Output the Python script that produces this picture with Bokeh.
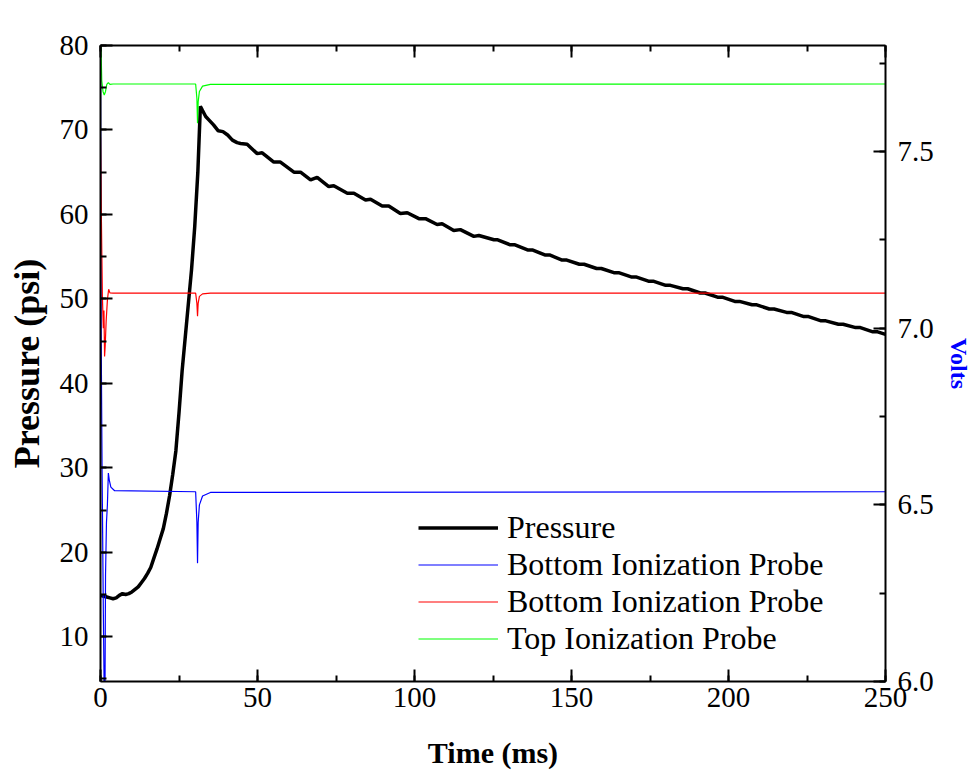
from bokeh.plotting import figure
from bokeh.models import (Range1d, LinearAxis, SingleIntervalTicker, PrintfTickFormatter,
                          Legend, LegendItem, CustomLabelingPolicy)
from bokeh.embed import file_html
from bokeh.resources import INLINE

# ---------------- data ----------------
p_time = [0, 1, 2, 3, 4, 5, 6, 7, 8, 9, 10, 11, 12, 13, 14, 15, 16, 17, 18, 19, 20,
          21, 22, 23, 24, 25, 26, 27, 28, 29, 30, 31, 31.8, 32.5, 33.5, 34.5, 36, 37.5,
          39, 40.5, 42, 43.5, 44.6, 46.7, 49.9, 51.5, 55.2, 57.3, 61.6, 63.7, 66.9, 69.0,
          72.7, 74.3, 78.6, 80.7, 84.4, 86.0, 89.7, 91.8, 95.5, 97.7, 101.4, 103.5, 107.2,
          108.8, 112.5, 114.6, 118.9, 120.5, 125.3, 126.5, 130.5, 132, 136, 137.5, 141.5,
          143, 147, 148.5, 152.5, 154, 158, 159.5, 163.5, 165, 169, 170.5, 174.5, 176, 180,
          181.5, 185.5, 187, 191, 192.5, 196.5, 198, 202, 203.5, 207.5, 209, 213, 214.5,
          218.5, 220, 224, 225.5, 229.5, 231, 235, 236.5, 240.5, 242, 246, 247.5, 250]
pressure = [14.9, 14.8, 14.7, 14.6, 14.5, 14.6, 14.9, 15.1, 15.0, 15.1, 15.3, 15.6, 15.9,
            16.4, 16.9, 17.5, 18.2, 19.3, 20.4, 21.6, 22.8, 24.6, 26.7, 29.2, 32.0, 36.5,
            41.5, 45.5, 49.5, 53.5, 58.5, 65.0, 72.8, 72.3, 71.6, 71.2, 70.6, 69.9, 69.8,
            69.4, 68.8, 68.5, 68.4, 68.3, 67.2, 67.3, 66.2, 66.2, 65.0, 65.0, 64.1, 64.4,
            63.3, 63.4, 62.5, 62.5, 61.7, 61.8, 61.0, 61.0, 60.1, 60.2, 59.5, 59.5, 58.8,
            58.9, 58.1, 58.2, 57.4, 57.5, 57.0, 57.0, 56.4, 56.4, 55.8, 55.8, 55.2, 55.2,
            54.6, 54.6, 54.1, 54.1, 53.6, 53.6, 53.1, 53.1, 52.6, 52.6, 52.1, 52.1, 51.6,
            51.6, 51.2, 51.2, 50.7, 50.7, 50.2, 50.2, 49.7, 49.7, 49.3, 49.3, 48.8, 48.8,
            48.4, 48.4, 47.9, 47.9, 47.4, 47.4, 47.0, 47.0, 46.6, 46.6, 46.1, 46.1, 45.8]

blue_time = [0, 0.2, 0.5, 0.9, 1.2, 1.4, 1.6, 1.9, 2.2, 2.5, 2.8, 3.3, 4.5, 30.3, 30.7,
             30.9, 31.1, 31.5, 32.5, 35, 250]
blue_volts = [7.76, 7.0, 6.6, 6.2, 5.95, 5.9, 6.3, 6.45, 6.5, 6.59, 6.57, 6.55, 6.54,
              6.537, 6.45, 6.335, 6.45, 6.50, 6.525, 6.535, 6.537]

red_time = [0, 0.3, 0.6, 0.9, 1.1, 1.3, 1.5, 1.8, 2.2, 2.6, 3.0, 4.0, 30.3, 30.7, 30.9,
            31.1, 31.5, 32.5, 35, 250]
red_volts = [7.54, 7.3, 7.09, 7.0, 7.05, 6.92, 6.95, 7.02, 7.08, 7.11, 7.10, 7.099,
             7.099, 7.07, 7.034, 7.07, 7.09, 7.097, 7.099, 7.099]

green_time = [0, 0.2, 0.4, 0.8, 1.2, 1.6, 2.0, 2.5, 3.0, 4.0, 30.3, 30.7, 30.9, 31.1,
              31.5, 32.5, 35, 250]
green_volts = [7.9, 7.78, 7.70, 7.67, 7.66, 7.67, 7.69, 7.695, 7.69, 7.691, 7.691, 7.65,
               7.58, 7.64, 7.67, 7.685, 7.69, 7.691]

x_ticks_interval = 50
left_ticks_interval = 10
right_ticks_interval = 0.5

FONT = "Liberation Serif"

p = figure(width=974, height=776, x_range=Range1d(0, 250), y_range=Range1d(4.7, 80),
           output_backend="svg", toolbar_location=None,
           min_border_left=100, min_border_right=89, min_border_top=45, min_border_bottom=95)
p.extra_y_ranges = {"volts": Range1d(6.0, 7.8)}
p.xgrid.visible = False
p.ygrid.visible = False
p.outline_line_color = None
p.background_fill_color = "white"
p.border_fill_color = "white"


def style(ax):
    ax.axis_line_width = 2
    ax.axis_line_color = "black"
    ax.major_tick_in = 12
    ax.major_tick_out = 0
    ax.minor_tick_in = 6
    ax.minor_tick_out = 0
    ax.major_tick_line_width = 2
    ax.minor_tick_line_width = 2
    ax.major_tick_line_color = "black"
    ax.minor_tick_line_color = "black"
    ax.major_label_text_font = FONT
    ax.major_label_text_font_size = "29px"
    ax.major_label_text_color = "black"
    ax.axis_label_text_font = FONT
    ax.axis_label_text_font_style = "bold"
    ax.axis_label_text_color = "black"


xa = p.xaxis[0]
xa.ticker = SingleIntervalTicker(interval=x_ticks_interval, num_minor_ticks=2)
style(xa)
xa.major_label_standoff = 6
xa.axis_label = "Time (ms)"
xa.axis_label_text_font_size = "30px"
xa.axis_label_standoff = 26

ya = p.yaxis[0]
ya.ticker = SingleIntervalTicker(interval=left_ticks_interval, num_minor_ticks=2)
style(ya)
ya.major_label_standoff = 12
ya.axis_label = "Pressure (psi)"
ya.axis_label_text_font_size = "36px"
ya.axis_label_standoff = 10

ra = LinearAxis(y_range_name="volts",
                ticker=SingleIntervalTicker(interval=right_ticks_interval, num_minor_ticks=2),
                formatter=PrintfTickFormatter(format="%.1f"))
style(ra)
ra.major_label_standoff = 12
ra.axis_label = "Volts"
ra.axis_label_text_font_size = "24px"
ra.axis_label_text_color = "#0000ff"
ra.axis_label_standoff = 9
p.add_layout(ra, "right")

ta = LinearAxis(ticker=SingleIntervalTicker(interval=x_ticks_interval, num_minor_ticks=2),
                major_label_policy=CustomLabelingPolicy(code="return new Set()"))
style(ta)
ta.major_label_standoff = 0
p.add_layout(ta, "above")

r_p = p.line(p_time, pressure, line_color="black", line_width=3.5)
r_b = p.line(blue_time, blue_volts, line_color="#0000ff", line_width=1.2, y_range_name="volts")
r_r = p.line(red_time, red_volts, line_color="#ff0000", line_width=1.2, y_range_name="volts")
r_g = p.line(green_time, green_volts, line_color="#00ff00", line_width=1.2, y_range_name="volts")

legend = Legend(items=[
    LegendItem(label="Pressure", renderers=[r_p]),
    LegendItem(label="Bottom Ionization Probe", renderers=[r_b]),
    LegendItem(label="Bottom Ionization Probe", renderers=[r_r]),
    LegendItem(label="Top Ionization Probe", renderers=[r_g]),
], location=(318, 24))
legend.padding = 0
legend.margin = 0
legend.spacing = 0
legend.border_line_color = None
legend.background_fill_alpha = 0
legend.glyph_width = 80
legend.glyph_height = 37
legend.label_height = 37
legend.label_standoff = 9
legend.label_text_font = FONT
legend.label_text_font_size = "32px"
legend.label_text_color = "black"
p.add_layout(legend, "center")

open("out.html", "w").write(file_html(p, INLINE))
